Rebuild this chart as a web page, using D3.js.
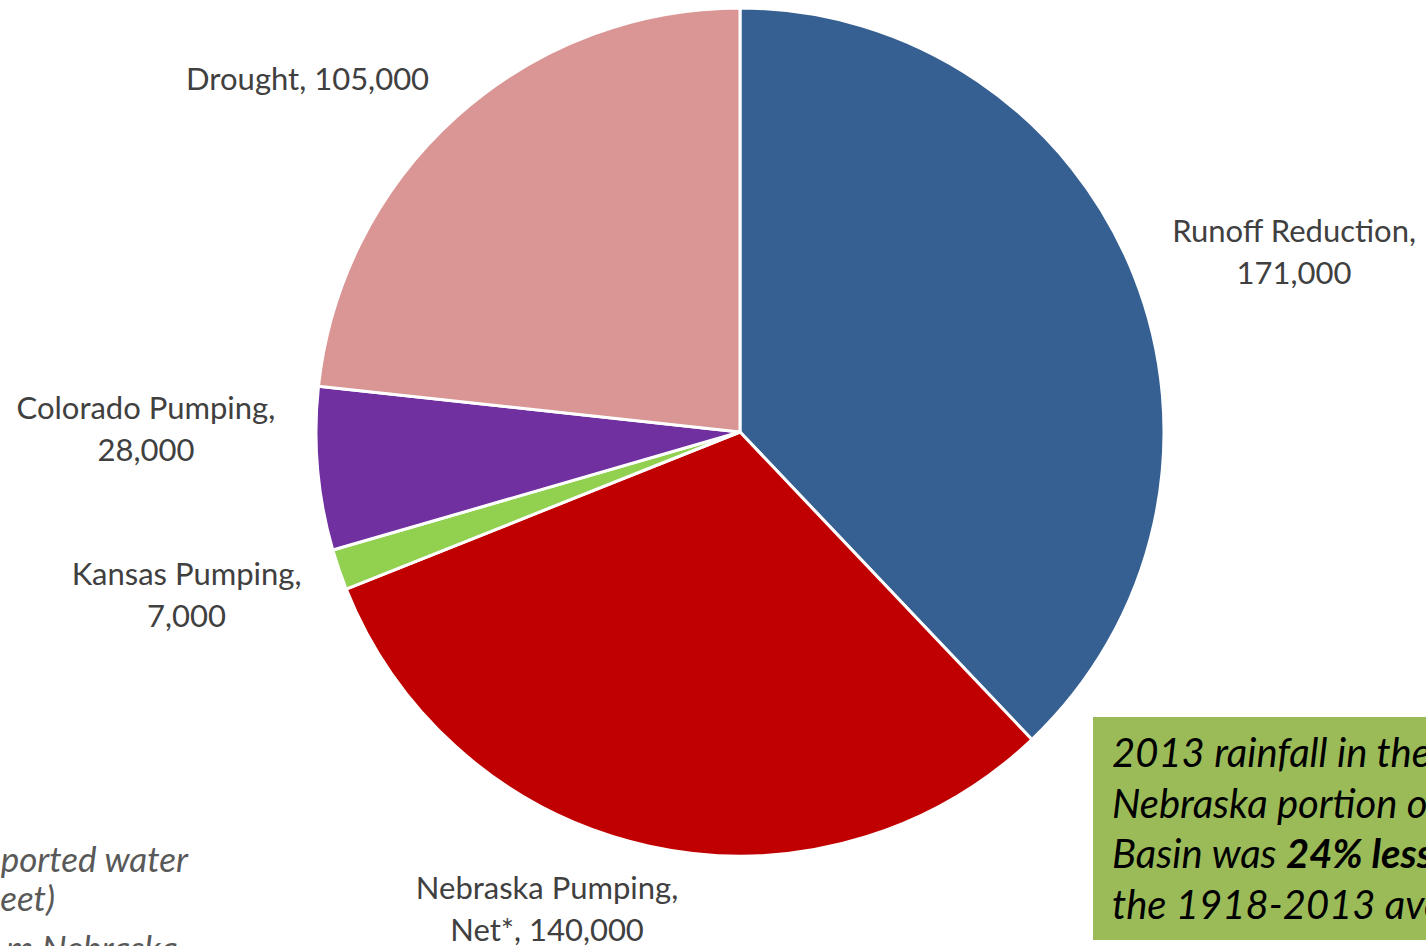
<!DOCTYPE html>
<html>
<head>
<meta charset="utf-8">
<script src="https://cdn.jsdelivr.net/npm/d3@7"></script>
<style>
  html, body { margin: 0; padding: 0; background: #fff; overflow: hidden; }
  svg { display: block; }
</style>
</head>
<body>
<svg id="chart" width="1426" height="946"></svg>
<script>
// Sources of streamflow depletion (acre-feet)
const categories = ["Runoff Reduction", "Nebraska Pumping, Net*", "Kansas Pumping", "Colorado Pumping", "Drought"];
const values = [171000, 140000, 7000, 28000, 105000];
const labelLines = [
  ["Runoff Reduction,", "171,000"],
  ["Nebraska Pumping,", "Net*, 140,000"],
  ["Kansas Pumping,", "7,000"],
  ["Colorado Pumping,", "28,000"],
  ["Drought, 105,000"]
];
const colors = ["#376092", "#c00000", "#92d050", "#7030a0", "#d99694"];

// Note text
const noteLines = ["ported water", "eet)", "m Nebraska"];
const calloutLines = [
  [{t: "2013 rainfall in the"}],
  [{t: "Nebraska portion of the"}],
  [{t: "Basin was "}, {t: "24% less", b: true}, {t: " than"}],
  [{t: "the 1918-2013 average"}]
];

const svg = d3.select("#chart");
const cx = 740, cy = 432, R = 424;
const fontFamily = "Lato, 'Open Sans', sans-serif";

const data = categories.map((c, i) => ({ name: c, value: values[i], lines: labelLines[i], color: colors[i] }));

const pie = d3.pie().value(d => d.value).sort(null).startAngle(0).endAngle(2 * Math.PI);
const arc = d3.arc().innerRadius(0).outerRadius(R);
const arcs = pie(data);

const g = svg.append("g").attr("transform", `translate(${cx},${cy})`);

g.selectAll("path.slice")
  .data(arcs)
  .join("path")
  .attr("class", "slice")
  .attr("d", arc)
  .attr("fill", d => d.data.color)
  .attr("stroke", "#fff")
  .attr("stroke-width", 3)
  .attr("stroke-linejoin", "round");

// Outside-end data labels, offset from the slice's mid-angle
const lineH = 42;
const gap = 42;
const nudge = [[8, 9], [-65, -18], [-4, -1], [-1, -46], [-40, 10]];
arcs.forEach((a, i) => {
  const mid = (a.startAngle + a.endAngle) / 2;
  const s = Math.sin(mid), c = -Math.cos(mid);
  const lines = a.data.lines;
  const t = g.append("text")
    .attr("font-family", fontFamily)
    .attr("font-size", 31)
    .attr("fill", "#404040")
    .attr("text-anchor", "middle");
  lines.forEach((ln, k) => t.append("tspan").attr("x", 0).attr("dy", k === 0 ? 0 : lineH).text(ln));
  let w = 0;
  t.selectAll("tspan").each(function() { w = Math.max(w, this.getComputedTextLength()); });
  const h = lines.length * lineH;
  const px = (R + gap) * s, py = (R + gap) * c;
  const bx = px + s * w / 2 + nudge[i][0];
  const by = py + c * h / 2 + nudge[i][1];
  const firstBase = by - (lines.length - 1) * lineH / 2 + 10;
  t.attr("transform", `translate(${bx},${firstBase})`);
});

// Footnote fragment in the lower left
const note = svg.append("text")
  .attr("font-family", fontFamily)
  .attr("font-size", 35)
  .attr("font-style", "italic")
  .attr("fill", "#595959")
  .attr("text-anchor", "end");
const noteRight = [188, 55, 178];
const noteBase = [872, 911, 961];
noteLines.forEach((ln, i) => note.append("tspan").attr("x", noteRight[i]).attr("y", noteBase[i]).text(ln));

// Rainfall callout box
const box = svg.append("g").attr("transform", "translate(1093,717)");
box.append("rect").attr("width", 400).attr("height", 223).attr("fill", "#9bbb59");
const ct = box.append("text")
  .attr("font-family", fontFamily)
  .attr("font-size", 40)
  .attr("font-style", "italic")
  .attr("fill", "#000");
calloutLines.forEach((parts, i) => {
  const line = ct.append("tspan").attr("x", 19).attr("y", 50 + i * 50.5);
  parts.forEach((p, k) => {
    const sp = k === 0 ? line : ct.append("tspan");
    sp.text(p.t);
    if (p.b) sp.attr("font-weight", "bold");
  });
});
</script>
</body>
</html>
